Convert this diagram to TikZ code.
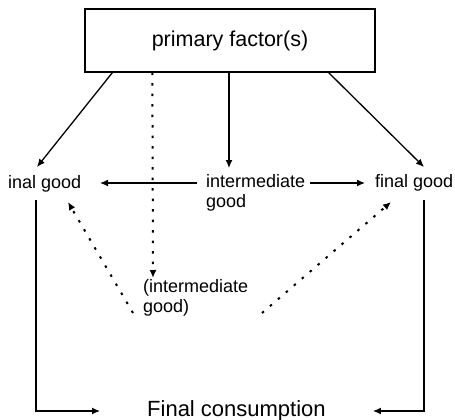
\documentclass[tikz,border=0pt]{standalone}
\usepackage{fontspec}
\setmainfont{Liberation Sans}
\usetikzlibrary{arrows.meta,calc}
\begin{document}
\begin{tikzpicture}[x=1pt,y=-1pt,
  lbl/.style={inner sep=0pt, anchor=base west, font=\fontsize{18}{20}\selectfont, align=left},
  conn/.style={line width=1.3pt, -{Latex[length=8pt,width=7pt]}},
  dotconn/.style={line width=2pt, dash pattern=on 2.5pt off 8pt, -{Latex[length=8pt,width=7pt]}}]
\useasboundingbox (0,0) rectangle (455,420);
\node[draw, line width=1.3pt, minimum width=290pt, minimum height=63pt, inner sep=0pt,
  font=\fontsize{21.5}{24}\selectfont] (pf) at (230,40.5) {primary factor(s)};
\node[lbl] (fgl) at (8,188) {inal good};
\node[lbl] (ig) at (206,207) {intermediate\\good};
\node[lbl] (fgr) at (375,187) {final good};
\node[lbl] (ig2) at (143,312) {(intermediate\\good)};
\node[inner sep=0pt, anchor=base west, font=\fontsize{22}{24}\selectfont] (fc) at (147,416) {Final consumption};

\draw[conn] ($(pf.south west)+(28,0)$) -- ($(fgl.base west)+(29,-21)$);
\draw[conn] ($(pf.south)+(-1,0)$) -- ($(ig.base west)+(23,-39)$);
\draw[conn] ($(pf.south east)+(-47,0)$) -- ($(fgr.base west)+(49,-20)$);
\draw[dotconn] ($(pf.south west)+(68,0)$) -- ($(ig2.base west)+(10,-34)$);
\draw[conn] ($(ig.base west)+(-9,-24)$) -- ($(fgl.base west)+(92,-5)$);
\draw[conn] ($(ig.base west)+(104,-24)$) -- ($(fgr.base west)+(-10,-4)$);
\draw[dotconn] ($(ig2.base west)+(-10,1)$) -- ($(fgl.base west)+(60,14)$);
\draw[dotconn] ($(ig2.base west)+(119,1)$) -- ($(fgr.base west)+(16,15)$);
\draw[conn] ($(fgl.base west)+(28,12)$) |- ($(fc.base west)+(-47,-5)$);
\draw[conn] ($(fgr.base west)+(49,13)$) |- ($(fc.base east)+(47,-5)$);
\end{tikzpicture}
\end{document}
